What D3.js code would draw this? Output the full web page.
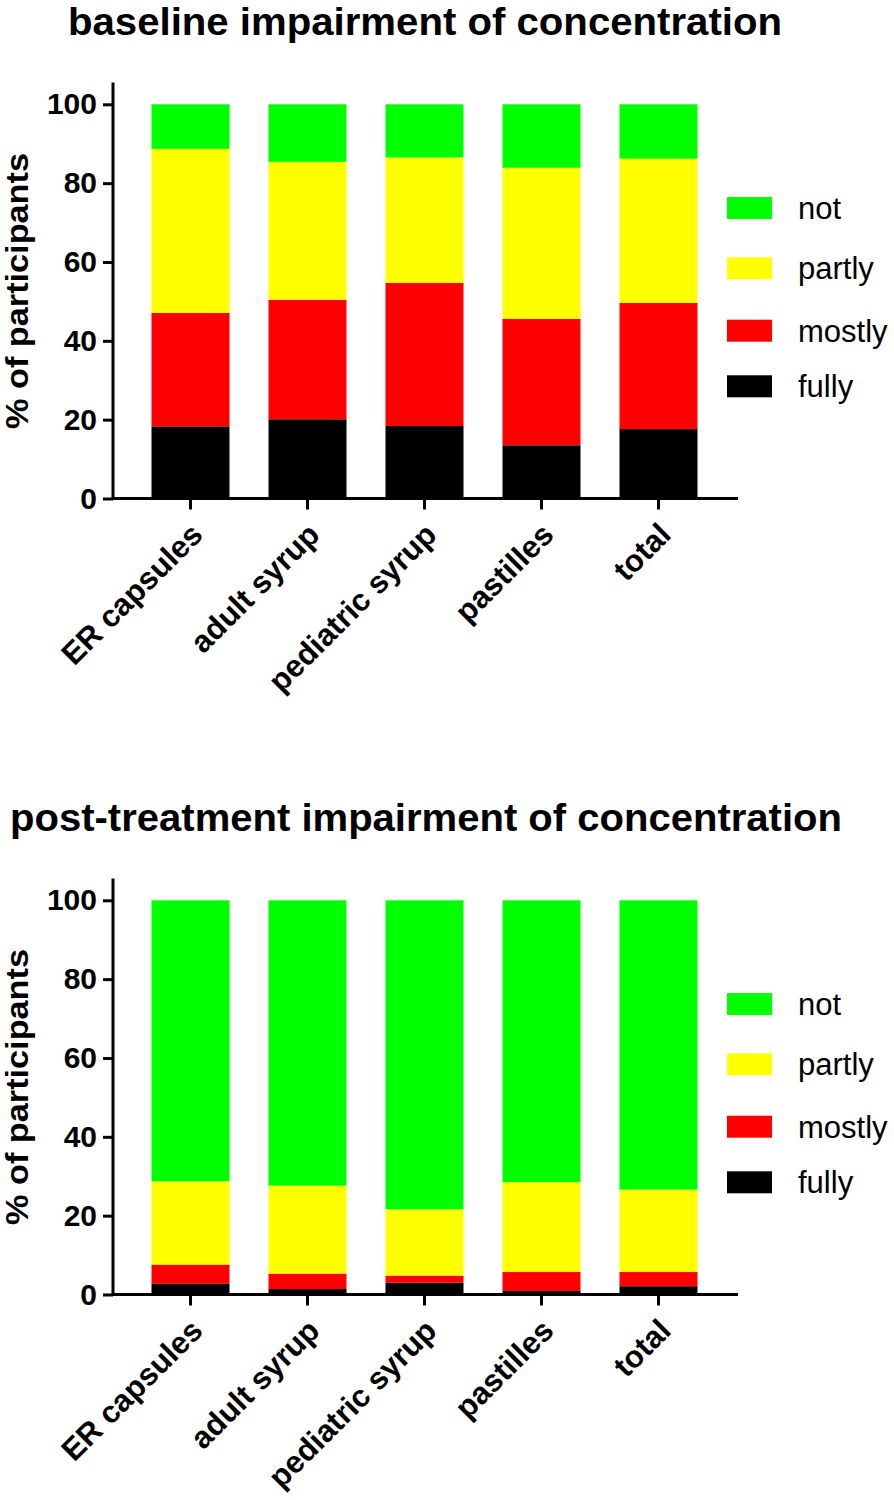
<!DOCTYPE html>
<html><head><meta charset="utf-8">
<script src="https://cdn.jsdelivr.net/npm/d3@7"></script>
<style>
html,body{margin:0;padding:0;background:#fff;}
svg{display:block;}
text{font-family:"Liberation Sans",Arial,sans-serif;}
</style></head>
<body>
<svg id="chart" width="894" height="1500"></svg>
<script>
const categories = ["ER capsules","adult syrup","pediatric syrup","pastilles","total"];
const levels = ["fully","mostly","partly","not"];
const legendOrder = ["not","partly","mostly","fully"];
const levelColors = ["#000000","#ff0000","#ffff00","#00ff00"];
const yTicks = [0,20,40,60,80,100];

const baselineFully  = [18.3,20.1,18.4,13.5,17.6];
const baselineMostly = [28.8,30.3,36.3,32.1,32.0];
const baselinePartly = [41.6,35.0,31.8,38.3,36.6];
const baselineNot    = [11.3,14.6,13.5,16.1,13.8];

const postFully  = [2.7,1.4,3.0,0.9,2.1];
const postMostly = [4.9,3.9,1.8,4.8,3.6];
const postPartly = [21.1,22.3,16.8,22.8,20.9];
const postNot    = [71.3,72.4,78.4,71.5,73.4];

const titles = ["baseline impairment of concentration","post-treatment impairment of concentration"];
const yLabel = "% of participants";

function rows(f,m,p,n){
  return categories.map((c,i)=>({cat:c, fully:f[i], mostly:m[i], partly:p[i], not:n[i]}));
}
const panels = [
  {title:titles[0], data:rows(baselineFully,baselineMostly,baselinePartly,baselineNot), dy:0, titleX:425, titleW:714},
  {title:titles[1], data:rows(postFully,postMostly,postPartly,postNot), dy:796, titleX:426, titleW:832}
];

const svg = d3.select("#chart");
const color = d3.scaleOrdinal().domain(levels).range(levelColors);
const x = d3.scaleBand().domain(categories).range([132,717]).paddingInner(1/3).paddingOuter(1/6);

panels.forEach(pn=>{
  const g = svg.append("g").attr("transform",`translate(0,${pn.dy})`);
  const y = d3.scaleLinear().domain([0,100]).range([498.5,104.3]);

  g.append("text").attr("x",pn.titleX).attr("y",35).attr("text-anchor","middle")
    .attr("font-size",38).attr("font-weight","bold")
    .attr("textLength",pn.titleW).attr("lengthAdjust","spacingAndGlyphs").text(pn.title);

  const stack = d3.stack().keys(levels)(pn.data);
  g.selectAll("g.layer").data(stack).join("g").attr("class","layer")
    .attr("fill",d=>color(d.key))
    .selectAll("rect").data(d=>d).join("rect")
    .attr("x",d=>x(d.data.cat)).attr("width",x.bandwidth())
    .attr("y",d=>y(d[1])).attr("height",d=>y(d[0])-y(d[1]));

  // y axis
  const ya = g.append("g").attr("transform","translate(113,0)")
    .call(d3.axisLeft(y).tickValues(yTicks).tickSize(10).tickPadding(6));
  ya.select(".domain").remove();
  ya.selectAll(".tick line").attr("stroke","#000").attr("stroke-width",3);
  ya.selectAll(".tick text").attr("font-size",30).attr("font-weight","bold")
    .attr("font-family","'Liberation Sans',Arial,sans-serif").attr("fill","#000");
  g.append("line").attr("x1",113).attr("x2",113).attr("y1",y(105.5)).attr("y2",y(0)+1.5)
    .attr("stroke","#000").attr("stroke-width",3);

  // x axis
  const xa = g.append("g").attr("transform",`translate(0,${y(0)})`)
    .call(d3.axisBottom(x).tickSize(11).tickPadding(0).tickSizeOuter(0));
  xa.select(".domain").remove();
  xa.selectAll(".tick line").attr("stroke","#000").attr("stroke-width",3);
  xa.selectAll(".tick text").remove();
  g.append("line").attr("x1",111.5).attr("x2",738).attr("y1",y(0)).attr("y2",y(0))
    .attr("stroke","#000").attr("stroke-width",3);
  g.selectAll("text.xl").data(categories).join("text").attr("class","xl")
    .attr("transform",c=>`translate(${x(c)+x.bandwidth()/2+14},${y(0)+38}) rotate(-45)`)
    .attr("text-anchor","end").attr("font-size",31).attr("font-weight","bold").text(c=>c);

  // y label
  g.append("text").attr("transform",`translate(28,291) rotate(-90)`)
    .attr("text-anchor","middle").attr("font-size",31).attr("font-weight","bold")
    .attr("textLength",276).attr("lengthAdjust","spacingAndGlyphs").text(yLabel);

  // legend
  const legY = [219,279.3,341.7,397.3];
  const lg = g.selectAll("g.leg").data(legendOrder).join("g").attr("class","leg")
    .attr("transform",(d,i)=>`translate(727,${legY[i]})`);
  lg.append("rect").attr("x",0).attr("y",-22).attr("width",45).attr("height",22).attr("fill",d=>color(d));
  lg.append("text").attr("x",71).attr("y",0).attr("font-size",31).text(d=>d);
});
</script>
</body></html>
